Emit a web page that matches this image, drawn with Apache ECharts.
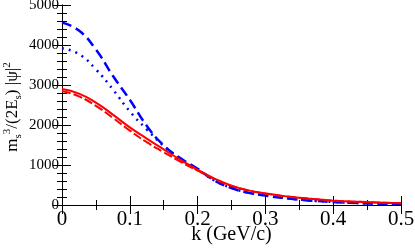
<!DOCTYPE html>
<html>
<head>
<meta charset="utf-8">
<script src="https://cdn.jsdelivr.net/npm/echarts@6/dist/echarts.min.js"></script>
<style>html,body{margin:0;padding:0;background:#fff}#c{width:415px;height:248px}</style>
</head>
<body>
<div id="c"></div>
<script>
var kValues = [0, 0.025, 0.05, 0.075, 0.1, 0.125, 0.15, 0.175, 0.2, 0.225, 0.25, 0.275, 0.3, 0.325, 0.35, 0.375, 0.4, 0.425, 0.45, 0.475, 0.5];
var blueDashed = [4560, 4360, 3885, 3230, 2630, 1980, 1490, 1165, 905, 610, 425, 305, 235, 178, 135, 100, 75, 55, 40, 30, 22];
var blueDotted = [3920, 3770, 3390, 2890, 2340, 1890, 1480, 1130, 880, 615, 428, 310, 238, 180, 137, 102, 77, 57, 42, 31, 23];
var redDashed = [2850, 2715, 2480, 2180, 1860, 1570, 1320, 1080, 860, 645, 475, 362, 287, 226, 181, 143, 107, 87, 71, 57, 44];
var redSolid = [2900, 2785, 2560, 2260, 1940, 1660, 1390, 1125, 880, 660, 485, 365, 290, 228, 183, 145, 108, 88, 72, 58, 45];
var xTicks = {min: 0, max: 0.5, interval: 0.1};
var yTicks = {min: 0, max: 5000, interval: 1000};
var xTitle = 'k (GeV/c)';

function pairs(arr) { return kValues.map(function (k, i) { return [k, arr[i]]; }); }

var serif = '"Liberation Serif","DejaVu Serif",serif';
var axisCommon = {
  axisLine: {show: true, lineStyle: {color: '#000', width: 1}},
  axisTick: {show: true, inside: true, length: 9, lineStyle: {color: '#000', width: 1}},
  splitLine: {show: false}
};
function merge(a, b) { var o = {}; for (var k in a) o[k] = a[k]; for (var k2 in b) o[k2] = b[k2]; return o; }
function minor(n) { return {show: true, splitNumber: n, length: 5, lineStyle: {color: '#000', width: 1}}; }

var chart = echarts.init(document.getElementById('c'), null, {renderer: 'canvas'});
chart.setOption({
  animation: false,
  backgroundColor: '#fff',
  grid: {left: 62, right: 14, top: 5, bottom: 43, containLabel: false, outerBoundsMode: 'none'},
  xAxis: [
    merge(axisCommon, {type: 'value', position: 'bottom', min: xTicks.min, max: xTicks.max, interval: xTicks.interval,
      minorTick: minor(2),
      axisLabel: {fontFamily: serif, fontSize: 21, color: '#000', margin: 4, formatter: function (v) { return String(+v.toFixed(2)); }}}),
    merge(axisCommon, {type: 'value', position: 'top', min: xTicks.min, max: xTicks.max, interval: xTicks.interval,
      minorTick: minor(2), axisLabel: {show: false}})
  ],
  yAxis: [
    merge(axisCommon, {type: 'value', position: 'left', min: yTicks.min, max: yTicks.max, interval: yTicks.interval,
      minorTick: minor(5),
      axisLabel: {fontFamily: serif, fontSize: 15, color: '#000', margin: 3, formatter: function (v) { return String(v); }}}),
    merge(axisCommon, {type: 'value', position: 'right', min: yTicks.min, max: yTicks.max, interval: yTicks.interval,
      minorTick: minor(5), axisLabel: {show: false}})
  ],
  graphic: [{
    type: 'text',
    x: 13, y: 107,
    rotation: Math.PI / 2,
    style: {
      text: '{a|m}{sub|s}{sup|3}{a|/(2E}{sub|s}{a|) |ψ|}{sup|2}',
      align: 'center', verticalAlign: 'middle',
      rich: {
        a: {fontFamily: serif, fontSize: 17, fill: '#000', lineHeight: 24, verticalAlign: 'middle'},
        sub: {fontFamily: serif, fontSize: 11, fill: '#000', lineHeight: 24, padding: [10, 0, 0, 0], verticalAlign: 'middle'},
        sup: {fontFamily: serif, fontSize: 11, fill: '#000', lineHeight: 24, padding: [0, 0, 12, 0], verticalAlign: 'middle'}
      }
    }
  }, {
    type: 'text',
    x: 231.5, y: 235,
    style: {text: xTitle, fontFamily: serif, fontSize: 20, fill: '#000', align: 'center', verticalAlign: 'middle'}
  }],
  series: [
    {type: 'line', data: pairs(blueDashed), smooth: true, showSymbol: false, symbol: 'none',
      lineStyle: {color: '#0000ff', width: 2.5, type: [10, 5]}},
    {type: 'line', data: pairs(blueDotted), smooth: true, showSymbol: false, symbol: 'none',
      lineStyle: {color: '#0000ff', width: 2.5, type: [2, 5]}},
    {type: 'line', data: pairs(redDashed), smooth: true, showSymbol: false, symbol: 'none',
      lineStyle: {color: '#ff0000', width: 2, type: [9, 3]}},
    {type: 'line', data: pairs(redSolid), smooth: true, showSymbol: false, symbol: 'none',
      lineStyle: {color: '#ff0000', width: 2}}
  ]
});
</script>
</body>
</html>
